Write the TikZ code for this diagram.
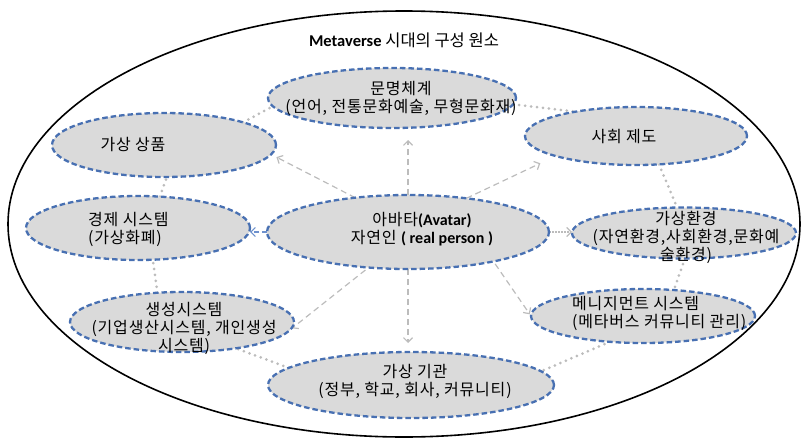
\documentclass[tikz,border=0pt]{standalone}
\usepackage{fontspec}
\setmainfont{Noto Sans CJK KR}
\newfontfamily\cellfont{Noto Sans CJK KR}[LetterSpace=5]
\newfontfamily\calibrifont{Carlito}
\usetikzlibrary{shapes.geometric,arrows.meta}
\definecolor{rimblue}{RGB}{72,112,178}
\definecolor{cellgray}{RGB}{218,218,218}
\definecolor{linkgray}{RGB}{188,188,188}
\definecolor{arrowblue}{RGB}{110,145,205}
\pgfdeclarelayer{links}
\pgfsetlayers{links,main}
\newcommand{\lat}[1]{{\calibrifont\bfseries #1}}
\tikzset{
  cell/.style={ellipse, draw=rimblue, fill=cellgray, line width=2.3pt,
    dash pattern=on 5.5pt off 3pt, inner sep=0pt, outer sep=0pt},
  celltext/.style={font=\cellfont\fontsize{16}{18}\selectfont, align=center, inner sep=0pt},
  ring/.style={draw=linkgray, line width=3pt, line cap=round,
    dash pattern=on 0pt off 6pt},
  spoke/.style={draw=linkgray, line width=1.2pt, dash pattern=on 6pt off 4pt,
    -{Straight Barb[length=4.5pt,width=9pt]}},
}
\begin{document}
\begin{tikzpicture}[x=1pt,y=-1pt]
\useasboundingbox (0,0) rectangle (808,439);
% enclosing outline
\node[ellipse, draw=black, line width=1.6pt, minimum width=792pt,
  minimum height=426pt, inner sep=0pt] (frame) at (404,224) {};
\node[font=\fontsize{16.5}{18}\selectfont, inner sep=0pt] (title) at (404,40)
  {\lat{Metaverse} 시대의 구성 원소};

% component ellipses
\node[cell, minimum width=248pt, minimum height=60pt] (civ)  at (392,98)  {};
\node[cell, minimum width=224pt, minimum height=64pt] (prod) at (164,145) {};
\node[cell, minimum width=222pt, minimum height=58pt] (soc)  at (636,136) {};
\node[cell, minimum width=224pt, minimum height=64pt] (econ) at (138,228) {};
\node[cell, minimum width=282pt, minimum height=74pt] (av)   at (408,232) {};
\node[cell, minimum width=224pt, minimum height=51pt] (env)  at (684,233) {};
\node[cell, minimum width=224pt, minimum height=60pt] (gen)  at (182,322) {};
\node[cell, minimum width=224pt, minimum height=54pt] (mgmt) at (643,316) {};
\node[cell, minimum width=286pt, minimum height=66pt] (inst) at (411,385) {};

% labels
\node[celltext] (civT)  at (401,98)  {문명체계\\(언어, 전통문화예술, 무형문화재)};
\node[celltext] (prodT) at (133,144) {가상 상품};
\node[celltext] (socT)  at (624,137) {사회 제도};
\node[celltext, align=left, anchor=west] (econT) at (88,229) {경제 시스템\\(가상화폐)};
\node[celltext] (avT)   at (422,229) {아바타\lat{(Avatar)}\\자연인 \lat{( real person )}};
\node[celltext] (envT)  at (686,237) {가상환경\\(자연환경,사회환경,문화예\\술환경)};
\node[celltext] (genT)  at (184,328) {생성시스템\\(기업생산시스템, 개인생성\\시스템)};
\node[celltext, align=left, anchor=west] (mgmtT) at (572,313) {메니지먼트 시스템\\(메타버스 커뮤니티 관리)};
\node[celltext] (instT) at (415,381) {가상 기관\\(정부, 학교, 회사, 커뮤니티)};

\begin{pgfonlayer}{links}
% dotted ring between neighbouring components
\draw[ring] (prod.16)  -- (civ.184);
\draw[ring] (civ.-3)   -- (soc.158);
\draw[ring] (soc.-51)  -- (env.105);
\draw[ring] (env.-88)  -- (mgmt.40);
\draw[ring] (mgmt.218) -- (inst.6);
\draw[ring] (inst.172) -- (gen.-26);
\draw[ring] (gen.130)  -- (econ.-65);
\draw[ring] (econ.55)  -- (prod.-85);

% dashed spokes from the avatar
\draw[spoke, shorten >=12pt] (av.north) -- (av.north |- civ.south);
\draw[spoke, shorten >=6pt] (av.147) -- (prod.-5);
\draw[spoke, shorten >=17pt] (av.30) -- (soc.194);
\draw[spoke, shorten <=4pt, shorten >=2pt] (av.222) -- (gen.-4);
\draw[spoke, shorten >=9pt] (av.south) -- (av.south |- inst.north);
\draw[spoke, shorten <=3pt, shorten >=2pt] (av.-19) -- (mgmt.180);
\draw[draw=arrowblue, line width=1.2pt, dash pattern=on 5pt off 3pt,
  -{Straight Barb[length=4.5pt,width=9pt]}] (av.west) -- (av.west -| econ.east);
\draw[draw=linkgray, line width=1.2pt, dash pattern=on 1.5pt off 1.5pt,
  -{Straight Barb[length=4.5pt,width=9pt]}] (av.east) -- (av.east -| env.west);
\end{pgfonlayer}
\end{tikzpicture}
\end{document}
